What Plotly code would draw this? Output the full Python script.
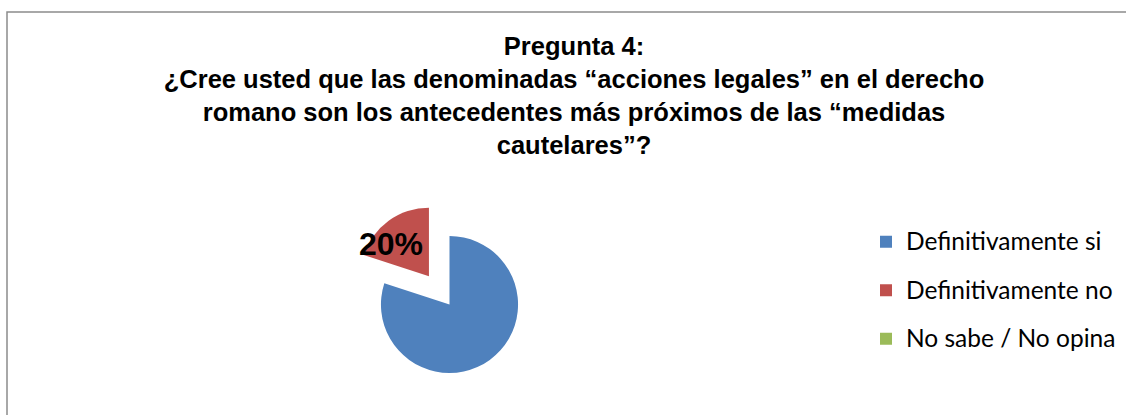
import plotly.graph_objects as go

# ---- data ----
categories = ["Definitivamente si", "Definitivamente no", "No sabe / No opina"]
values = [80, 20, 0]
colors = ["#4F81BD", "#C0504D", "#9BBB59"]
pulls = [0, 0.51, 0]
title_lines = [
    "Pregunta 4:",
    "¿Cree usted que las denominadas “acciones legales” en el derecho",
    "romano son los antecedentes más próximos de las “medidas",
    "cautelares”?",
]

W, H = 1126, 415
total = sum(values)
pct = [round(v * 100 / total) for v in values]

legend_labels = [
    f'<span style="font-size:24.5px;baseline-shift:5px">{c}</span>' for c in categories
]

fig = go.Figure(
    go.Pie(
        labels=legend_labels,
        values=values,
        sort=False,
        direction="clockwise",
        rotation=0,
        pull=pulls,
        marker=dict(colors=colors, line=dict(width=0)),
        textinfo="none",
        hoverinfo="label+percent",
        domain=dict(x=[346 / W, 553 / W], y=[1 - 408 / H, 1 - 201 / H]),
    )
)

# percentage label for the pulled slice
fig.add_annotation(
    text=f"<b>{pct[1]}%</b>",
    x=390.5 / W,
    y=1 - 244 / H,
    xref="paper",
    yref="paper",
    showarrow=False,
    xanchor="center",
    yanchor="middle",
    font=dict(family="Liberation Sans, Arial", size=32, color="#000000"),
)

# chart border
fig.add_shape(
    type="rect",
    xref="paper",
    yref="paper",
    x0=7 / W,
    x1=1.01,
    y0=-0.05,
    y1=1 - 12 / H,
    line=dict(color="#8c8c8c", width=1.5),
    fillcolor="rgba(0,0,0,0)",
)

fig.update_layout(
    width=W,
    height=H,
    margin=dict(l=0, r=0, t=0, b=0),
    paper_bgcolor="white",
    plot_bgcolor="white",
    title=dict(
        text="<br>".join(title_lines),
        x=574 / W,
        xanchor="center",
        y=1 - 55 / H,
        yanchor="top",
        yref="container",
        font=dict(family="Liberation Sans, Arial", size=25.5, color="#000000", weight="bold"),
    ),
    legend=dict(
        x=866 / W,
        xanchor="left",
        y=1 - 290.5 / H,
        yanchor="middle",
        font=dict(family="Lato, Noto Sans, sans-serif", size=35, color="#000000"),
        bgcolor="rgba(0,0,0,0)",
        borderwidth=0,
        itemclick=False,
    ),
    showlegend=True,
)

fig.write_html(
    "out.html",
    config={"displayModeBar": False},
    post_script="document.body.style.margin='0px';",
)
